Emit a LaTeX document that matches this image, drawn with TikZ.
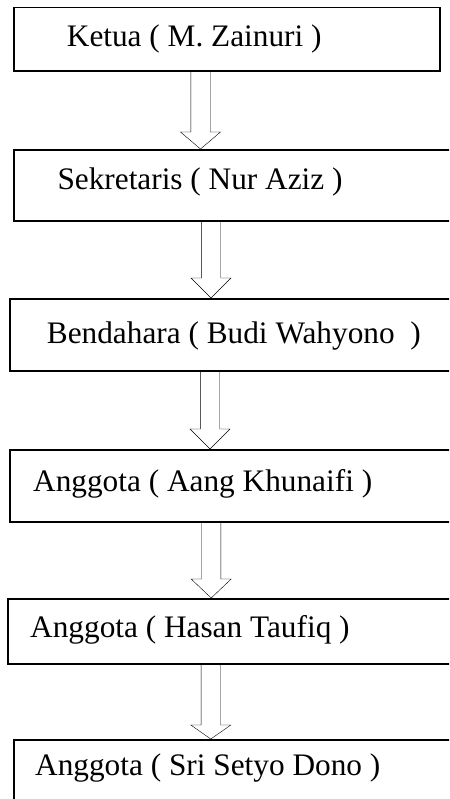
\documentclass[tikz,border=0pt]{standalone}
\usepackage{fontspec}
\setmainfont{Liberation Serif}
\usetikzlibrary{calc}
\tikzset{
  box/.style={draw=black, line width=1.8pt, rectangle, inner sep=0pt, anchor=north west, fill=white},
  lbl/.style={anchor=base west, inner sep=0pt, font=\fontsize{31.3}{37}\selectfont},
  hollow/.style={line width=1.3pt, to path={
     ++(-9.7pt,0) -- ($(\tikztotarget)+(-9.7pt,#1)$) -- ++(-10.3pt,0) -- (\tikztotarget)
     -- ++(20pt,#1) -- ++(-10.3pt,0) -- ($(\tikztostart)+(9.7pt,0)$)}}
}
\begin{document}
\begin{tikzpicture}[x=1pt,y=-1pt]
\useasboundingbox (0,0) rectangle (449,799);
\clip (0,0) rectangle (449,799);
% boxes
\node[box, minimum width=426.3pt, minimum height=63.3pt] (b1) at (12.7,6.7) {};
\node[box, minimum width=450pt, minimum height=71pt] (b2) at (12.7,149) {};
\node[box, minimum width=450pt, minimum height=72pt] (b3) at (9.3,298) {};
\node[box, minimum width=450pt, minimum height=71.7pt] (b4) at (9,449) {};
\node[box, minimum width=450pt, minimum height=65pt] (b5) at (7.3,598) {};
\node[box, minimum width=450pt, minimum height=80pt] (b6) at (12.7,739) {};
% labels
\node[lbl] (t1) at (66.7,46.7) {Ketua ( M. Zainuri )};
\node[lbl] (t2) at (57.3,189.3) {Sekretaris ( Nur Aziz )};
\node[lbl] (t3) at (46.7,343) {Bendahara ( Budi Wahyono \ )};
\node[lbl] (t4) at (33,491) {Anggota ( Aang Khunaifi )};
\node[lbl] (t5) at (30,637.3) {Anggota ( Hasan Taufiq )};
\node[lbl] (t6) at (35,775) {Anggota ( Sri Setyo Dono )};
% arrow axes
\coordinate (c1) at (200.5,0);
\coordinate (c2) at (211,0);
\coordinate (c3) at (210,0);
\coordinate (c4) at (211.2,0);
\coordinate (c5) at (210.8,0);
% block arrows
\draw (b1.south -| c1) to[hollow=17pt] (b2.north -| c1);
\draw (b2.south -| c2) to[hollow=20pt] (b3.north -| c2);
\draw (b3.south -| c3) to[hollow=20pt] (b4.north -| c3);
\draw (b4.south -| c4) to[hollow=19pt] (b5.north -| c4);
\draw (b5.south -| c5) to[hollow=14pt] (b6.north -| c5);
\end{tikzpicture}
\end{document}
